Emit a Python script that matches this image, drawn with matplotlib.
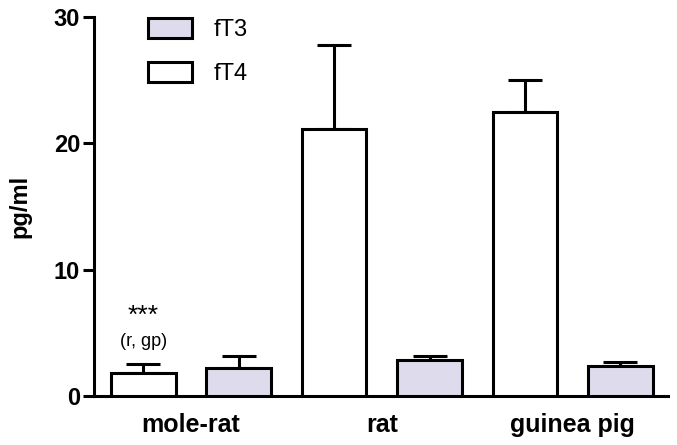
import matplotlib
matplotlib.use('Agg')
import matplotlib.pyplot as plt
import numpy as np
from matplotlib.patches import Patch

plt.rcParams['font.family'] = ['Liberation Sans', 'DejaVu Sans']

# data
groups = ['mole-rat', 'rat', 'guinea pig']
ft4_mean = [1.8, 21.1, 22.5]
ft4_sem = [0.7, 6.7, 2.5]
ft3_mean = [2.2, 2.85, 2.35]
ft3_sem = [0.95, 0.3, 0.35]

lavender = '#dddbec'
lw = 2.2

fig = plt.figure(figsize=(6.77, 4.45), dpi=100)
ax = fig.add_axes([0.139, 0.110, 0.848, 0.852])

x = np.arange(len(groups))
x4 = x * 2
x3 = x * 2 + 1
w = 0.68

ax.bar(x4, ft4_mean, w, color='white', edgecolor='black', linewidth=lw, zorder=3)
ax.bar(x3, ft3_mean, w, color=lavender, edgecolor='black', linewidth=lw, zorder=3)
for xs, m, e in [(x4, ft4_mean, ft4_sem), (x3, ft3_mean, ft3_sem)]:
    ax.errorbar(xs, m, yerr=[np.zeros(len(e)), e], fmt='none', ecolor='black',
                elinewidth=lw, capsize=12.5, capthick=lw, zorder=2)

# significance note over the mole-rat fT4 bar
ax.text(x4[0], 6.35, '***', ha='center', va='center', fontsize=19)
ax.text(x4[0], 4.3, '(r, gp)', ha='center', va='center', fontsize=13)

ax.set_xlim(-0.513, 5.5)
ax.set_ylim(0, 30)
ax.set_yticks([0, 10, 20, 30])
ax.set_xticks(x * 2 + 0.5)
ax.set_xticklabels(groups, fontsize=18, fontweight='bold')
ax.tick_params(axis='x', length=0, pad=12)
ax.tick_params(axis='y', length=8, width=lw, labelsize=17, pad=2)
for t in ax.get_yticklabels():
    t.set_fontweight('bold')
ax.set_ylabel('pg/ml', fontsize=17, fontweight='bold', labelpad=16)

for s in ['top', 'right']:
    ax.spines[s].set_visible(False)
for s in ['left', 'bottom']:
    ax.spines[s].set_linewidth(lw)

handles = [Patch(facecolor=lavender, edgecolor='black', linewidth=lw, label='fT3'),
           Patch(facecolor='white', edgecolor='black', linewidth=lw, label='fT4')]
ax.legend(handles=handles, loc='upper left', bbox_to_anchor=(0.094, 0.996), frameon=False,
          fontsize=17, handlelength=1.86, handleheight=0.9, handletextpad=0.9,
          labelspacing=0.88, borderaxespad=0, borderpad=0)

fig.savefig('out.png', dpi=100)
